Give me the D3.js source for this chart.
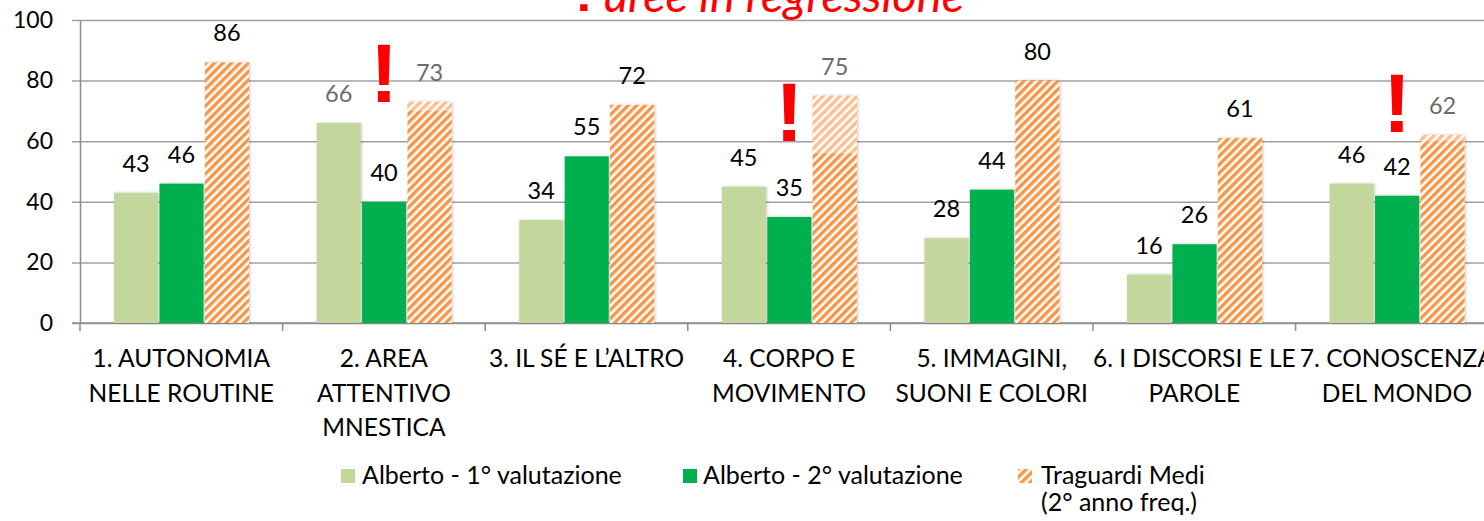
<!DOCTYPE html>
<html>
<head>
<meta charset="utf-8">
<script src="https://cdn.jsdelivr.net/npm/d3@7"></script>
<style>
body { margin: 0; background: #fff; }
svg { display: block; font-family: Lato, "Open Sans", sans-serif; }
</style>
</head>
<body>
<svg id="chart" width="1484" height="521"></svg>
<script>
// data
var categories = ["1. AUTONOMIA\nNELLE ROUTINE", "2. AREA\nATTENTIVO\nMNESTICA", "3. IL SÉ E L’ALTRO",
                  "4. CORPO E\nMOVIMENTO", "5. IMMAGINI,\nSUONI E COLORI", "6. I DISCORSI E LE\nPAROLE",
                  "7. CONOSCENZA\nDEL MONDO"];
var seriesNames = ["Alberto - 1° valutazione", "Alberto - 2° valutazione", "Traguardi Medi\n(2° anno freq.)"];
var valutazione1 = [43, 66, 34, 45, 28, 16, 46];
var valutazione2 = [46, 40, 55, 35, 44, 26, 42];
var traguardi = [86, 73, 72, 75, 80, 61, 62];
var yTicks = [0, 20, 40, 60, 80, 100];
var regressione = [1, 3, 6];      // categories flagged with "!"
var flagLevel = [73, 60, 63];     // value where the "!" sits
var greyLabels = [[1, 0], [1, 2], [3, 2], [6, 2]];
var fadedTop = [null, 70, null, 56, null, null, 60];
var titleText = "aree in regressione";

var svg = d3.select('#chart');
var W = 1484;
var colors = ["#c3d69b", "#00b050", "url(#hatch)"];

var defs = svg.append('defs');
var pat = defs.append('pattern')
    .attr('id', 'hatch')
    .attr('patternUnits', 'userSpaceOnUse')
    .attr('width', 6).attr('height', 6)
    .attr('patternTransform', 'rotate(45)');
pat.append('rect').attr('width', 6).attr('height', 6).attr('fill', '#fff');
pat.append('rect').attr('width', 3.4).attr('height', 6).attr('fill', '#f79646');

var shadow = defs.append('filter').attr('id', 'shadow')
    .attr('x', '-20%').attr('y', '-5%').attr('width', '140%').attr('height', '110%');
shadow.append('feDropShadow').attr('dx', 1).attr('dy', 0).attr('stdDeviation', 1.6)
    .attr('flood-color', '#000').attr('flood-opacity', 0.22);

var x0 = d3.scaleBand().domain(d3.range(categories.length)).range([80, 80 + 7 * 202.6]);
var x1 = d3.scaleBand().domain([0, 1, 2]).range([34, 169]).paddingInner(0.03);
var y = d3.scaleLinear().domain([0, 100]).range([323, 20]);

// gridlines
svg.append('g')
    .attr('transform', 'translate(72,0)')
    .call(d3.axisLeft(y).tickValues(yTicks).tickSizeInner(-(W - 72)).tickSizeOuter(0).tickFormat(''))
    .call(function (g) {
        g.select('.domain').remove();
        g.selectAll('line').attr('stroke', '#a0a0a0').attr('stroke-width', 1.5);
    });

// y axis
svg.append('g')
    .attr('transform', 'translate(80,0)')
    .call(d3.axisLeft(y).tickValues(yTicks).tickSize(0).tickPadding(27))
    .call(function (g) {
        g.select('.domain').attr('stroke', '#8c8c8c').attr('stroke-width', 1.5);
        g.selectAll('text').attr('font-size', 23).attr('fill', '#000').attr('font-family', 'Lato');
    });

// x axis line + boundary ticks
svg.append('line').attr('x1', 72).attr('x2', W).attr('y1', y(0)).attr('y2', y(0))
    .attr('stroke', '#8c8c8c').attr('stroke-width', 1.5);
svg.append('g').selectAll('line')
    .data(d3.range(categories.length + 1))
    .enter().append('line')
    .attr('x1', function (i) { return x0.range()[0] + i * x0.step(); })
    .attr('x2', function (i) { return x0.range()[0] + i * x0.step(); })
    .attr('y1', y(0)).attr('y2', y(0) + 8)
    .attr('stroke', '#8c8c8c').attr('stroke-width', 1.5);

// bars
var rows = categories.map(function (c, i) {
    return [valutazione1[i], valutazione2[i], traguardi[i]];
});
var group = svg.append('g').selectAll('g.cat')
    .data(rows)
    .enter().append('g')
    .attr('class', 'cat')
    .attr('transform', function (d, i) { return 'translate(' + x0(i) + ',0)'; });

group.selectAll('rect')
    .data(function (d) { return d; })
    .enter().append('rect')
    .attr('x', function (d, j) { return x1(j); })
    .attr('y', function (d) { return y(d); })
    .attr('width', x1.bandwidth())
    .attr('height', function (d) { return y(0) - y(d); })
    .attr('fill', function (d, j) { return colors[j]; })
    .attr('filter', 'url(#shadow)');

// pale top part on some target bars
svg.append('g').selectAll('rect')
    .data(d3.range(categories.length).filter(function (i) { return fadedTop[i] != null; }))
    .enter().append('rect')
    .attr('x', function (i) { return x0(i) + x1(2); })
    .attr('y', function (i) { return y(traguardi[i]); })
    .attr('width', x1.bandwidth())
    .attr('height', function (i) { return y(fadedTop[i]) - y(traguardi[i]); })
    .attr('fill', '#fff').attr('opacity', 0.4);

// value labels
function isGrey(i, j) {
    return greyLabels.some(function (p) { return p[0] === i && p[1] === j; });
}
group.each(function (d, i) {
    d3.select(this).selectAll('text.val')
        .data(d)
        .enter().append('text')
        .attr('class', 'val')
        .attr('x', function (v, j) { return x1(j) + x1.bandwidth() / 2; })
        .attr('y', function (v) { return y(v) - 21; })
        .attr('text-anchor', 'middle')
        .attr('font-size', 23.5)
        .attr('fill', function (v, j) { return isGrey(i, j) ? '#6b6b6b' : '#000'; })
        .text(function (v) { return v; });
});

// regression flags
svg.append('g').selectAll('text')
    .data(regressione)
    .enter().append('text')
    .attr('x', function (c) { return x0(c) + x1(1) + x1.bandwidth() / 2; })
    .attr('y', function (c, k) { return y(flagLevel[k]); })
    .attr('text-anchor', 'middle')
    .attr('font-family', 'Liberation Sans, Arial, sans-serif')
    .attr('font-weight', 'bold')
    .attr('font-size', 84)
    .attr('fill', '#ff0000')
    .text('!');

// category labels
var catLabel = svg.append('g').selectAll('text')
    .data(categories)
    .enter().append('text')
    .attr('text-anchor', 'middle')
    .attr('font-size', 24.5)
    .attr('fill', '#000')
    .attr('transform', function (d, i) { return 'translate(' + (x0(i) + x0.bandwidth() / 2) + ',367)'; });
catLabel.selectAll('tspan')
    .data(function (d) { return d.split('\n'); })
    .enter().append('tspan')
    .attr('x', 0)
    .attr('y', function (d, k) { return k * 34.5; })
    .text(function (d) { return d; });

// title (cut off at the top)
svg.append('text')
    .attr('x', 584).attr('y', 11)
    .attr('text-anchor', 'middle')
    .attr('fill', '#ff0000')
    .attr('font-family', 'Liberation Sans, Arial')
    .attr('font-weight', 'bold')
    .attr('font-size', 52)
    .text('!');
svg.append('text')
    .attr('x', 604).attr('y', 12)
    .attr('fill', '#ff0000')
    .attr('font-style', 'italic')
    .attr('font-size', 47)
    .text(titleText);

// legend
var legendX = [341, 683, 1018];
var textX = [21, 20, 23];
var legend = svg.append('g').selectAll('g')
    .data(seriesNames)
    .enter().append('g')
    .attr('transform', function (d, j) { return 'translate(' + legendX[j] + ',0)'; });
legend.append('rect')
    .attr('x', 0).attr('y', 469)
    .attr('width', 14).attr('height', 14)
    .attr('fill', function (d, j) { return colors[j]; });
var legText = legend.append('text')
    .attr('font-size', 25)
    .attr('fill', '#000');
legText.selectAll('tspan')
    .data(function (d, j) { return d.split('\n').map(function (s) { return [s, textX[j]]; }); })
    .enter().append('tspan')
    .attr('x', function (d) { return d[1]; })
    .attr('y', function (d, k) { return 484 + k * 27; })
    .text(function (d) { return d[0]; });
</script>
</body>
</html>
